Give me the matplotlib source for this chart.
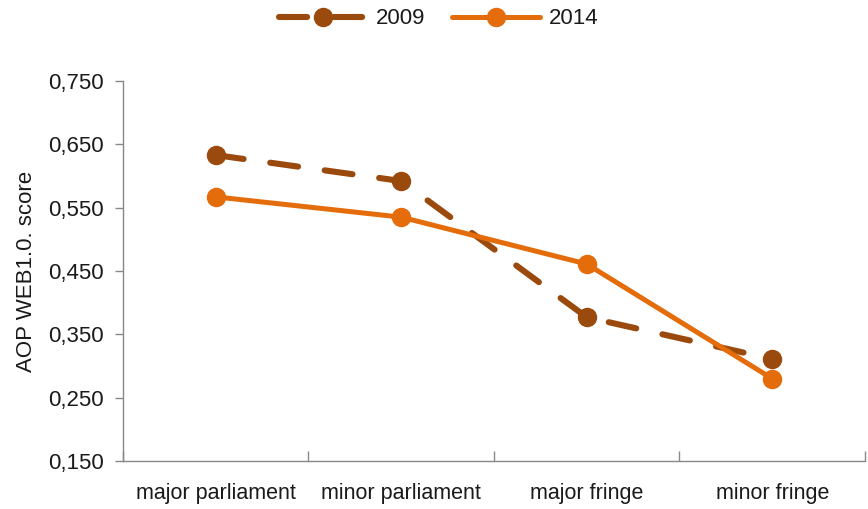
import matplotlib
matplotlib.use("Agg")
import matplotlib.pyplot as plt
from matplotlib.ticker import FixedLocator, FuncFormatter

categories = ["major parliament", "minor parliament", "major fringe", "minor fringe"]
scores_2009 = [0.633, 0.592, 0.377, 0.311]
scores_2014 = [0.567, 0.535, 0.461, 0.280]
y_ticks = [0.150, 0.250, 0.350, 0.450, 0.550, 0.650, 0.750]

plt.rcParams["font.family"] = ["Liberation Sans", "DejaVu Sans"]

fig = plt.figure(figsize=(8.68, 5.09), dpi=100)
ax = fig.add_axes([0.1417, 0.0943, 0.8548, 0.7466])

x = list(range(len(categories)))
c09 = "#9A4A0C"
c14 = "#E46C0A"

ax.plot(x, scores_2009, color=c09, lw=4.4, dashes=(4.6, 4.4), dash_capstyle="round",
        marker="o", markersize=13, label="2009", zorder=3)
ax.plot(x, scores_2014, color=c14, lw=3.6, solid_capstyle="round",
        marker="o", markersize=13, label="2014", zorder=4)

ax.set_xlim(-0.5, 3.5)
ax.set_ylim(0.15, 0.75)
ax.yaxis.set_major_locator(FixedLocator(y_ticks))
ax.yaxis.set_major_formatter(FuncFormatter(lambda v, p: f"{v:.3f}".replace(".", ",")))

ax.xaxis.set_major_locator(FixedLocator([-0.5, 0.5, 1.5, 2.5, 3.5]))
ax.xaxis.set_major_formatter(FuncFormatter(lambda v, p: ""))
ax.xaxis.set_minor_locator(FixedLocator(x))
ax.set_xticklabels(categories, minor=True)
ax.tick_params(axis="x", which="minor", length=0, pad=16, labelsize=15.5, labelcolor="#1a1a1a")
ax.tick_params(axis="x", which="major", length=7, direction="in", color="#888888", width=1)
ax.tick_params(axis="y", which="major", length=6, direction="out", color="#888888", width=1,
               labelsize=16, labelcolor="#1a1a1a", pad=8)

for s in ["top", "right"]:
    ax.spines[s].set_visible(False)
for s in ["left", "bottom"]:
    ax.spines[s].set_color("#888888")
    ax.spines[s].set_linewidth(1)

ax.set_ylabel("AOP WEB1.0. score", fontsize=16, color="#1a1a1a", labelpad=8)

leg = fig.legend(loc="center", bbox_to_anchor=(0.506, 0.963), ncol=2, frameon=False,
                 fontsize=16, handlelength=3.96, columnspacing=1.2, handletextpad=0.4,
                 borderpad=0, borderaxespad=0)
for t in leg.get_texts():
    t.set_color("#1a1a1a")

fig.savefig("out.png", dpi=100)
